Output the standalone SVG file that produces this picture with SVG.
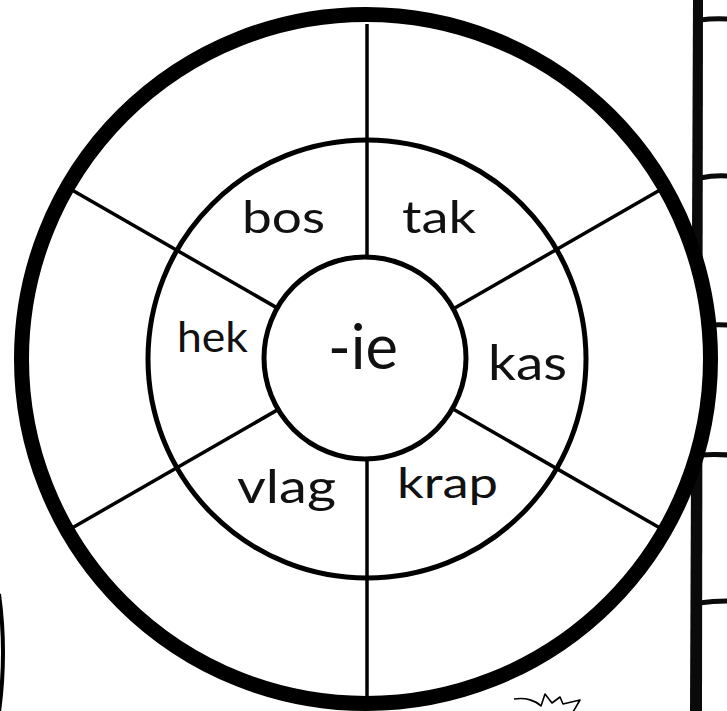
<svg xmlns="http://www.w3.org/2000/svg" width="727" height="711" viewBox="0 0 727 711">
<style>
.lbl{font-family:"Lato","Liberation Sans",sans-serif;fill:#111;}
.ring{fill:none;stroke:#000;}
.spoke{stroke:#000;stroke-width:3.5;fill:none;}
.tick{stroke:#0a0a0a;stroke-width:5;fill:none;stroke-linecap:round;}
</style>
<rect width="727" height="711" fill="#fff"/>
<g id="side-frame">
<polygon points="693,0 703,0 702,711 690,711" fill="#0a0a0a"/>
<path class="tick" d="M700,20 Q714,18 729,19"/>
<path class="tick" d="M700,178 Q714,175 729,176"/>
<path class="tick" d="M700,326 Q714,324 729,325"/>
<path class="tick" d="M700,455 Q714,454 729,455"/>
<path class="tick" d="M699,603 Q714,601 729,601"/>
</g>
<g id="left-arc">
<path d="M-1,594 Q7,652 -1,712" fill="none" stroke="#000" stroke-width="4"/>
</g>
<g id="doodle">
<path d="M514,699 C526,697 536,701 541,706 L545,694 L552,703 L560,697 L563,704 L580,700 L573,712" fill="none" stroke="#000" stroke-width="1.6" stroke-linejoin="round"/>
</g>
<g id="outer-ring">
<circle cx="366" cy="359" r="344.5" fill="#fff" stroke="#000" stroke-width="15"/>
</g>
<g id="connectors">
<line class="spoke" x1="367" y1="24" x2="367" y2="696"/>
<line class="spoke" x1="72" y1="190" x2="660" y2="528"/>
<line class="spoke" x1="72" y1="528" x2="660" y2="190"/>
</g>
<g id="middle-ring">
<circle class="ring" cx="367" cy="359" r="219" stroke-width="5"/>
</g>
<g id="center">
<circle cx="365" cy="358" r="101" fill="#fff" stroke="#000" stroke-width="5"/>
<text class="lbl" x="328" y="369" font-size="62" textLength="70" lengthAdjust="spacingAndGlyphs">-ie</text>
</g>
<g id="seg-bos"><text class="lbl" x="242" y="233" font-size="44" textLength="83" lengthAdjust="spacingAndGlyphs">bos</text></g>
<g id="seg-tak"><text class="lbl" x="402" y="233" font-size="44" textLength="74" lengthAdjust="spacingAndGlyphs">tak</text></g>
<g id="seg-hek"><text class="lbl" x="177" y="352" font-size="43" textLength="71" lengthAdjust="spacingAndGlyphs">hek</text></g>
<g id="seg-kas"><text class="lbl" x="488" y="380" font-size="48" textLength="79" lengthAdjust="spacingAndGlyphs">kas</text></g>
<g id="seg-vlag"><text class="lbl" x="237" y="503" font-size="47" textLength="99" lengthAdjust="spacingAndGlyphs">vlag</text></g>
<g id="seg-krap"><text class="lbl" x="397" y="498" font-size="42" textLength="101" lengthAdjust="spacingAndGlyphs">krap</text></g>
</svg>
